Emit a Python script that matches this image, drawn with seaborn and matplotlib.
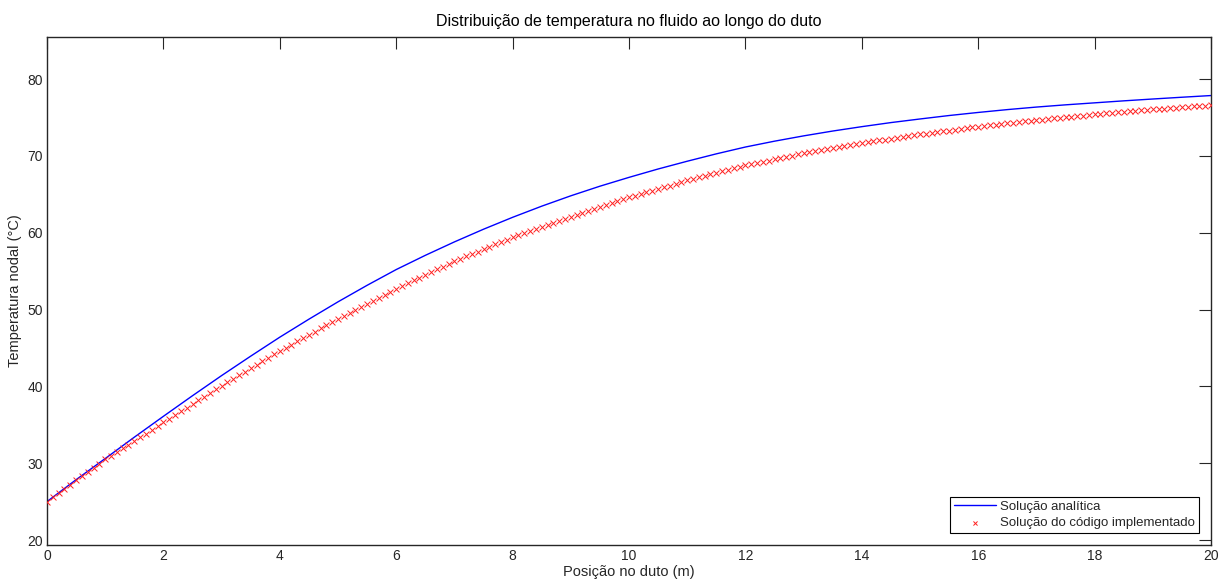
import numpy as np
import pandas as pd
import matplotlib
matplotlib.use("Agg")
import matplotlib.pyplot as plt
import seaborn as sns

# ---- data ----
title = "Distribuição de temperatura no fluido ao longo do duto"
xlabel = "Posição no duto (m)"
ylabel = "Temperatura nodal (°C)"
label_analytic = "Solução analítica"
label_numeric = "Solução do código implementado"

x_analytic = [0, 0.5, 1, 1.5, 2, 2.5, 3, 3.5, 4, 4.5, 5, 5.5, 6, 6.5, 7, 7.5,
              8, 8.5, 9, 9.5, 10, 10.5, 11, 11.5, 12, 12.5, 13, 13.5, 14, 14.5,
              15, 15.5, 16, 16.5, 17, 17.5, 18, 18.5, 19, 19.5, 20]
T_analytic = [25.0, 27.85, 30.6, 33.38, 36.1, 38.78, 41.4, 43.93, 46.4, 48.74,
              51.0, 53.15, 55.2, 57.05, 58.8, 60.45, 62.0, 63.45, 64.8, 66.05,
              67.2, 68.29, 69.3, 70.26, 71.15, 71.91, 72.6, 73.23, 73.8, 74.33,
              74.8, 75.25, 75.65, 76.02, 76.35, 76.64, 76.9, 77.16, 77.4, 77.63,
              77.85]

x_nodes = np.linspace(0, 20, 201)
T_nodes = [
    25.0, 25.55, 26.1, 26.65, 27.2, 27.75, 28.3, 28.85, 29.4, 29.95,
    30.5, 30.98, 31.46, 31.94, 32.42, 32.9, 33.38, 33.86, 34.34, 34.82,
    35.3, 35.78, 36.26, 36.74, 37.22, 37.7, 38.18, 38.66, 39.14, 39.62,
    40.1, 40.55, 41.0, 41.45, 41.9, 42.35, 42.8, 43.25, 43.7, 44.15,
    44.6, 45.02, 45.44, 45.86, 46.28, 46.7, 47.12, 47.54, 47.96, 48.38,
    48.8, 49.19, 49.58, 49.97, 50.36, 50.75, 51.14, 51.53, 51.92, 52.31,
    52.7, 53.06, 53.42, 53.78, 54.14, 54.5, 54.86, 55.22, 55.58, 55.94,
    56.3, 56.61, 56.92, 57.23, 57.54, 57.85, 58.16, 58.47, 58.78, 59.09,
    59.4, 59.67, 59.94, 60.21, 60.48, 60.75, 61.02, 61.29, 61.56, 61.83,
    62.1, 62.35, 62.6, 62.85, 63.1, 63.35, 63.6, 63.85, 64.1, 64.35,
    64.6, 64.82, 65.04, 65.26, 65.48, 65.7, 65.92, 66.14, 66.36, 66.58,
    66.8, 67.0, 67.19, 67.39, 67.58, 67.78, 67.97, 68.17, 68.36, 68.56,
    68.75, 68.91, 69.07, 69.23, 69.39, 69.55, 69.71, 69.87, 70.03, 70.19,
    70.35, 70.48, 70.61, 70.74, 70.87, 71.0, 71.13, 71.26, 71.39, 71.52,
    71.65, 71.77, 71.88, 72.0, 72.11, 72.23, 72.34, 72.46, 72.57, 72.69,
    72.8, 72.9, 73.0, 73.1, 73.2, 73.3, 73.4, 73.5, 73.6, 73.7,
    73.8, 73.89, 73.97, 74.06, 74.14, 74.23, 74.31, 74.4, 74.48, 74.57,
    74.65, 74.73, 74.8, 74.88, 74.95, 75.03, 75.1, 75.18, 75.25, 75.33,
    75.4, 75.47, 75.53, 75.6, 75.66, 75.73, 75.79, 75.86, 75.92, 75.99,
    76.05, 76.11, 76.16, 76.22, 76.27, 76.33, 76.38, 76.44, 76.49, 76.55,
    76.6,
]

x_ticks = [0, 2, 4, 6, 8, 10, 12, 14, 16, 18, 20]
y_ticks = [20, 30, 40, 50, 60, 70, 80]

# ---- style ----
sns.set_style("white")
plt.rcParams["font.family"] = ["Liberation Sans", "DejaVu Sans"]

fig = plt.figure(figsize=(12.2, 5.82), dpi=100)
ax = fig.add_axes([47 / 1220, 1 - 545 / 582, (1211 - 47) / 1220, (545 - 37) / 582])

df_a = pd.DataFrame({"x": x_analytic, "T": T_analytic})
df_n = pd.DataFrame({"x": x_nodes, "T": T_nodes})

sns.lineplot(data=df_a, x="x", y="T", ax=ax, color="#0000ff", linewidth=1.0,
             label=label_analytic)
sns.scatterplot(data=df_n, x="x", y="T", ax=ax, color="#ff2020", marker="x",
                s=18, linewidth=0.7, label=label_numeric, zorder=3)

ax.set_xlim(0, 20)
ax.set_ylim(19.35, 85.47)
ax.set_xticks(x_ticks)
ax.set_yticks(y_ticks)
ax.tick_params(direction="in", length=8.5, width=0.8, colors="#262626",
               labelsize=10, top=True, right=True, labelcolor="#262626", pad=3)
for s in ax.spines.values():
    s.set_color("#262626")
    s.set_linewidth(1.0)

ax.set_title(title, fontsize=11.5, color="black", pad=8)
ax.set_xlabel(xlabel, fontsize=10.5, color="#262626", labelpad=1)
ax.set_ylabel(ylabel, fontsize=10.5, color="#262626", labelpad=4)

leg = ax.legend(loc="lower right", fontsize=9.5, frameon=True, fancybox=False,
                edgecolor="black", framealpha=1, borderpad=0.3,
                handlelength=3.2, handletextpad=0.3, labelspacing=0.3,
                borderaxespad=0.9, markerscale=0.7)
leg.get_frame().set_linewidth(0.8)

fig.savefig("out.png", dpi=100)
